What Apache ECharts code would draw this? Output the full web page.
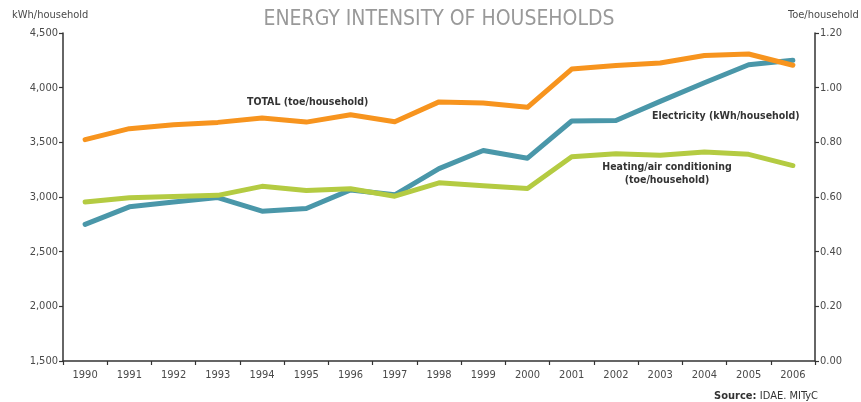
<!DOCTYPE html>
<html>
<head>
<meta charset="utf-8">
<script src="https://cdn.jsdelivr.net/npm/echarts@6/dist/echarts.min.js"></script>
<style>
  html, body { margin: 0; padding: 0; background: #fff; }
  #chart { width: 861px; height: 402px; }
</style>
</head>
<body>
<div id="chart"></div>
<script>
// years on the x axis
var years = ['1990', '1991', '1992', '1993', '1994', '1995', '1996', '1997', '1998',
             '1999', '2000', '2001', '2002', '2003', '2004', '2005', '2006'];
// electricity, kWh/household (left axis)
var electricity = [2750, 2910, 2955, 2995, 2870, 2895, 3065, 3020, 3260,
                   3425, 3355, 3695, 3700, 3875, 4045, 4210, 4250];
// total, toe/household (right axis)
var total = [0.810, 0.850, 0.864, 0.873, 0.889, 0.874, 0.901, 0.875, 0.948,
             0.944, 0.928, 1.068, 1.081, 1.090, 1.118, 1.123, 1.082];
// heating / air conditioning, toe/household (right axis)
var heating = [0.582, 0.597, 0.602, 0.606, 0.639, 0.624, 0.630, 0.603, 0.652,
               0.641, 0.631, 0.747, 0.758, 0.753, 0.765, 0.756, 0.715];

var font = 'DejaVu Sans Condensed';
var axisCol = '#333';
var txtCol = '#4a4a4a';

var chart = echarts.init(document.getElementById('chart'));

// shared axis look
function axisStyle() {
    return {
        axisLine: { show: true, lineStyle: { color: axisCol, width: 1.5 } },
        axisTick: { show: true, length: 4, lineStyle: { color: axisCol, width: 1.2 } },
        splitLine: { show: false },
        axisLabel: { color: txtCol, fontFamily: font, fontSize: 11 }
    };
}

var left = axisStyle();
var right = axisStyle();
var bottom = axisStyle();

var option = {
    animation: false,
    backgroundColor: '#fff',
    grid: { left: 63, right: 46, top: 33, bottom: 41, containLabel: false },
    xAxis: {
        type: 'category',
        data: years,
        boundaryGap: true,
        axisLine: bottom.axisLine,
        axisTick: bottom.axisTick,
        splitLine: bottom.splitLine,
        axisLabel: Object.assign({}, bottom.axisLabel, { margin: 9, interval: 0 })
    },
    yAxis: [{
        type: 'value',
        position: 'left',
        min: 1500, max: 4500, interval: 500,
        axisLine: left.axisLine,
        axisTick: left.axisTick,
        splitLine: left.splitLine,
        axisLabel: Object.assign({}, left.axisLabel, {
            margin: 5,
            formatter: function (v) { return v.toLocaleString('en-US'); }
        })
    }, {
        type: 'value',
        position: 'right',
        min: 0, max: 1.2, interval: 0.2,
        axisLine: right.axisLine,
        axisTick: right.axisTick,
        splitLine: right.splitLine,
        axisLabel: Object.assign({}, right.axisLabel, {
            margin: 5,
            formatter: function (v) { return v.toFixed(2); }
        })
    }],
    series: [{
        name: 'Electricity (kWh/household)',
        type: 'line',
        yAxisIndex: 0,
        data: electricity,
        symbol: 'none',
        lineStyle: { color: '#4a97a9', width: 5, cap: 'round', join: 'round' }
    }, {
        name: 'Heating/air conditioning (toe/household)',
        type: 'line',
        yAxisIndex: 1,
        data: heating,
        symbol: 'none',
        lineStyle: { color: '#b4cb42', width: 5, cap: 'round', join: 'round' }
    }, {
        name: 'TOTAL (toe/household)',
        type: 'line',
        yAxisIndex: 1,
        data: total,
        symbol: 'none',
        lineStyle: { color: '#f7941e', width: 5, cap: 'round', join: 'round' }
    }],
    graphic: [
        // title
        { type: 'text', x: 439, y: 9,
          style: { text: 'ENERGY INTENSITY OF HOUSEHOLDS', fill: '#999', align: 'center',
                   font: '21px "' + font + '"' } },
        // axis names
        { type: 'text', x: 12, y: 10,
          style: { text: 'kWh/household', fill: txtCol, font: '11px "' + font + '"' } },
        { type: 'text', x: 788, y: 10,
          style: { text: 'Toe/household', fill: txtCol, font: '11px "' + font + '"' } },
        // series labels
        { type: 'text', x: 247, y: 97,
          style: { text: 'TOTAL (toe/household)', fill: '#333', font: 'bold 10.5px "' + font + '"' } },
        { type: 'text', x: 652, y: 111,
          style: { text: 'Electricity (kWh/household)', fill: '#333', font: 'bold 10.5px "' + font + '"' } },
        { type: 'text', x: 667, y: 162,
          style: { text: 'Heating/air conditioning', fill: '#333', align: 'center',
                   font: 'bold 10.5px "' + font + '"' } },
        { type: 'text', x: 667, y: 175,
          style: { text: '(toe/household)', fill: '#333', align: 'center',
                   font: 'bold 10.5px "' + font + '"' } },
        // source
        { type: 'text', right: 43, top: 390,
          style: { rich: { b: { fontWeight: 'bold', fontFamily: font, fontSize: 11, fill: '#333' },
                           n: { fontFamily: font, fontSize: 11, fill: '#333' } },
                   text: '{b|Source:} {n|IDAE. MITyC}' } }
    ]
};

chart.setOption(option);
</script>
</body>
</html>
